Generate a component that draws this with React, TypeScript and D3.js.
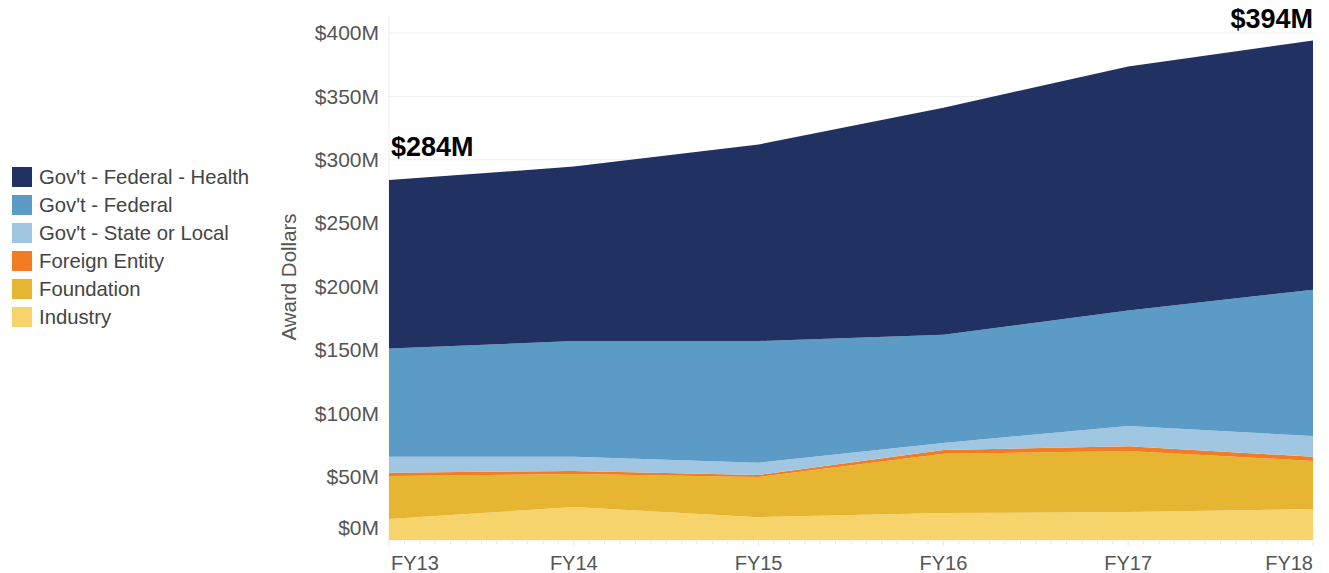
import React, { useEffect, useRef } from 'react';
import * as d3 from 'd3';

const years = ['FY13', 'FY14', 'FY15', 'FY16', 'FY17', 'FY18'];
// values in $M, stacked bottom to top
const industry = [16.6, 26, 18, 21.3, 22, 24.5];
const foundation = [33.9, 26, 31.8, 46.7, 48.3, 37.9];
const foreignEntity = [2.5, 2.5, 1.5, 3, 3.7, 3.2];
const stateLocal = [12.6, 11.1, 9.7, 5.6, 16, 16.4];
const federal = [85.4, 91.4, 96, 85.4, 91, 115.5];
const federalHealth = [133, 137.6, 155, 179, 192.6, 196.5];

const seriesNames = [
  "Gov't - Federal - Health",
  "Gov't - Federal",
  "Gov't - State or Local",
  'Foreign Entity',
  'Foundation',
  'Industry',
];
const seriesColors = ['#203162', '#5b9bc6', '#a0c6e2', '#f17c22', '#e6b632', '#f6d46b'];
const yTicks = [0, 50, 100, 150, 200, 250, 300, 350, 400];

export default function App() {
  const svgRef = useRef<SVGSVGElement | null>(null);

  useEffect(() => {
    const svg = d3.select(svgRef.current!);
    svg.selectAll('*').remove();
    const width = 1329;
    const height = 573;
    const margin = { top: 15, right: 16, bottom: 33, left: 389 };
    const font = '"Liberation Sans", Arial, sans-serif';

    const stackOrder = [industry, foundation, foreignEntity, stateLocal, federal, federalHealth];
    const stackNames = [...seriesNames].reverse();
    const stackColors = [...seriesColors].reverse();
    const rows = years.map((yr, i) => {
      const r: any = { year: yr };
      stackNames.forEach((n, k) => (r[n] = stackOrder[k][i]));
      return r;
    });
    const stacked = d3.stack<any>().keys(stackNames)(rows);

    const x = d3
      .scalePoint<string>()
      .domain(years)
      .range([margin.left, width - margin.right]);
    const y = d3
      .scaleLinear()
      .domain([0, 400])
      .range([height - margin.bottom, 33]);

    // gridlines
    svg
      .append('g')
      .selectAll('line')
      .data(yTicks)
      .join('line')
      .attr('x1', margin.left)
      .attr('x2', width - margin.right)
      .attr('y1', (d) => y(d))
      .attr('y2', (d) => y(d))
      .attr('stroke', '#eeeeee')
      .attr('stroke-width', 1);

    svg
      .append('line')
      .attr('x1', margin.left)
      .attr('x2', margin.left)
      .attr('y1', margin.top)
      .attr('y2', y(0))
      .attr('stroke', '#eeeeee');

    const area = d3
      .area<any>()
      .x((d) => x(d.data.year)!)
      .y0((d) => y(d[0]))
      .y1((d) => y(d[1]));

    svg
      .append('g')
      .selectAll('path')
      .data(stacked)
      .join('path')
      .attr('d', area)
      .attr('fill', (_d, i) => stackColors[i]);

    // minor ticks on x axis (monthly)
    const monthTicks = d3.range(0, 61).map((m) => margin.left + (m / 60) * (width - margin.right - margin.left));
    svg
      .append('g')
      .selectAll('line')
      .data(monthTicks)
      .join('line')
      .attr('x1', (d) => d)
      .attr('x2', (d) => d)
      .attr('y1', y(0) + 1)
      .attr('y2', (_d, i) => (i % 12 === 0 ? y(0) + 6 : y(0) + 4))
      .attr('stroke', '#e6e6e6');

    // y tick labels
    svg
      .append('g')
      .selectAll('text')
      .data(yTicks)
      .join('text')
      .attr('x', 379)
      .attr('y', (d) => (d === 0 ? y(d) - 12 : y(d)))
      .attr('dy', '0.35em')
      .attr('text-anchor', 'end')
      .attr('font-family', font)
      .attr('font-size', 21)
      .attr('fill', '#555')
      .text((d) => `$${d}M`);

    // x labels
    svg
      .append('g')
      .selectAll('text')
      .data(years)
      .join('text')
      .attr('x', (d, i) => (i === 0 ? x(d)! + 2 : x(d)!))
      .attr('y', 570)
      .attr('text-anchor', (_d, i) => (i === 0 ? 'start' : i === years.length - 1 ? 'end' : 'middle'))
      .attr('font-family', font)
      .attr('font-size', 20)
      .attr('fill', '#555')
      .text((d) => d);

    // axis title
    svg
      .append('text')
      .attr('transform', `translate(296,277) rotate(-90)`)
      .attr('text-anchor', 'middle')
      .attr('font-family', font)
      .attr('font-size', 20.5)
      .attr('fill', '#555')
      .text('Award Dollars');

    // total annotations
    const totals = years.map((_, i) => stackOrder.reduce((s, arr) => s + arr[i], 0));
    svg
      .append('text')
      .attr('x', x(years[0])! + 2)
      .attr('y', 156)
      .attr('font-family', font)
      .attr('font-size', 27)
      .attr('font-weight', 'bold')
      .attr('fill', '#000')
      .text(`$${Math.round(totals[0])}M`);
    svg
      .append('text')
      .attr('x', x(years[years.length - 1])!)
      .attr('y', 28)
      .attr('text-anchor', 'end')
      .attr('font-family', font)
      .attr('font-size', 27)
      .attr('font-weight', 'bold')
      .attr('fill', '#000')
      .text(`$${Math.round(totals[totals.length - 1])}M`);

    // legend
    const legend = svg.append('g').attr('transform', 'translate(12,167)');
    const items = legend
      .selectAll('g')
      .data(seriesNames)
      .join('g')
      .attr('transform', (_d, i) => `translate(0,${i * 28})`);
    items
      .append('rect')
      .attr('width', 20)
      .attr('height', 20)
      .attr('fill', (_d, i) => seriesColors[i]);
    items
      .append('text')
      .attr('x', 27)
      .attr('y', 10)
      .attr('dy', '0.35em')
      .attr('font-family', font)
      .attr('font-size', 20.3)
      .attr('fill', '#444')
      .text((d) => d);
  }, []);

  return (
    <svg
      ref={svgRef}
      width={1329}
      height={573}
      style={{ position: 'absolute', left: 0, top: 0, background: '#fff' }}
    />
  );
}
